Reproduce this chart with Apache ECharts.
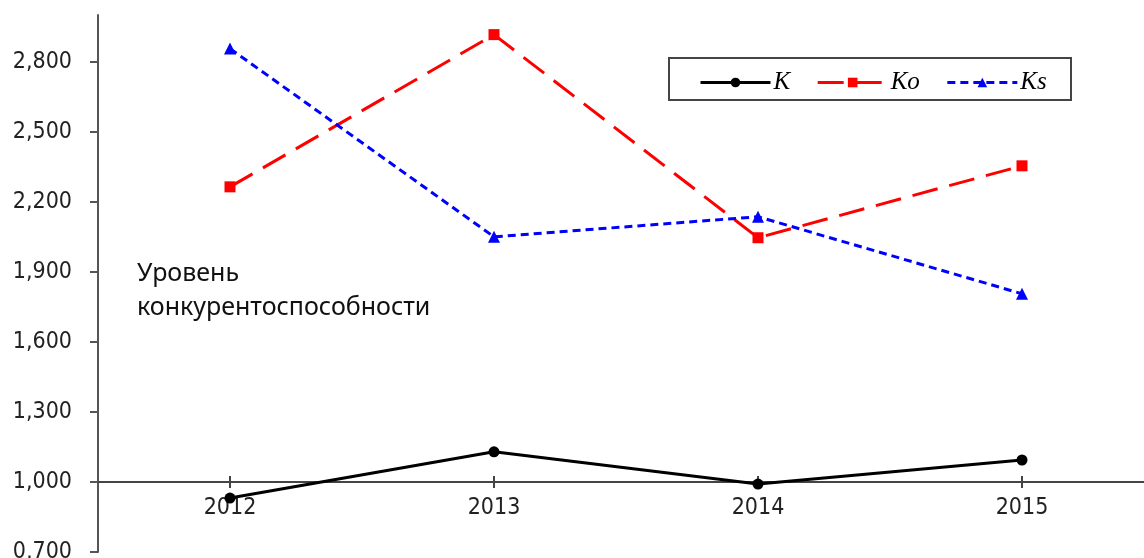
<!DOCTYPE html>
<html><head><meta charset="utf-8">
<script src="https://cdn.jsdelivr.net/npm/echarts@6/dist/echarts.min.js"></script>
<style>html,body{margin:0;padding:0;background:#fff}#c{width:1144px;height:558px}</style>
</head><body><div id="c"></div>
<script>
const years = ['2012','2013','2014','2015'];
const seriesK  = [0.931, 1.129, 0.991, 1.094];
const seriesKo = [2.264, 2.916, 2.046, 2.354];
const seriesKs = [2.856, 2.050, 2.136, 1.806];
const yTicks = [0.7, 1.0, 1.3, 1.6, 1.9, 2.2, 2.5, 2.8];
const annotation = 'Уровень\nконкурентоспособности';

const chart = echarts.init(document.getElementById('c'), null, {renderer:'canvas'});
const axisFont = {fontFamily:'DejaVu Sans Condensed, DejaVu Sans', fontSize:23, color:'#222'};
const fmt = v => v.toFixed(3).replace('.', ',');
chart.setOption({
  animation:false,
  grid:{left:98, right:-10, top:15, bottom:6, outerBoundsMode:'none', containLabel:false},
  xAxis:[{
    type:'category', data:years, boundaryGap:true, offset:-70,
    axisLine:{lineStyle:{color:'#444', width:2}},
    axisTick:{show:true, alignWithLabel:true, length:6, lineStyle:{color:'#444', width:2}},
    axisLabel:{margin:15, ...axisFont}
  },{
    type:'category', data:years, boundaryGap:true, position:'bottom', offset:-70,
    axisLine:{show:false},
    axisTick:{show:true, inside:true, alignWithLabel:true, length:6, lineStyle:{color:'#444', width:2}},
    axisLabel:{show:false}
  }],
  yAxis:{
    type:'value', min:0.7, max:3.0,
    splitLine:{show:false},
    axisLine:{show:true, lineStyle:{color:'#555', width:2}},
    axisTick:{show:true, length:8, customValues:yTicks, lineStyle:{color:'#555', width:2}},
    axisLabel:{margin:26, customValues:yTicks, formatter:fmt, ...axisFont}
  },
  legend:{
    left:694, top:65, itemWidth:70, itemHeight:12, itemGap:26,
    lineStyle:{width:3},
    textStyle:{fontFamily:'Liberation Serif', fontStyle:'italic', fontSize:25, color:'#000', padding:[0,0,0,-2]},
    data:['K','Ko','Ks']
  },
  graphic:[
    {type:'rect', shape:{x:669, y:58, width:402, height:42}, style:{fill:'none', stroke:'#444', lineWidth:2}, z:10},
    {type:'text', left:137, top:257, style:{text:annotation, font:'25px "Noto Sans"', fill:'#111', lineHeight:34}}
  ],
  series:[
    {name:'K', type:'line', data:seriesK, symbol:'circle', symbolSize:11,
     lineStyle:{color:'#000', width:3}, itemStyle:{color:'#000'}},
    {name:'Ko', type:'line', data:seriesKo, symbol:'rect', symbolSize:11,
     lineStyle:{color:'#ff0000', width:3, type:[26,12]}, itemStyle:{color:'#ff0000'}},
    {name:'Ks', type:'line', data:seriesKs, symbol:'triangle', symbolSize:12,
     lineStyle:{color:'#0000ff', width:3, type:[8,5]}, itemStyle:{color:'#0000ff'}}
  ]
});
</script></body></html>
